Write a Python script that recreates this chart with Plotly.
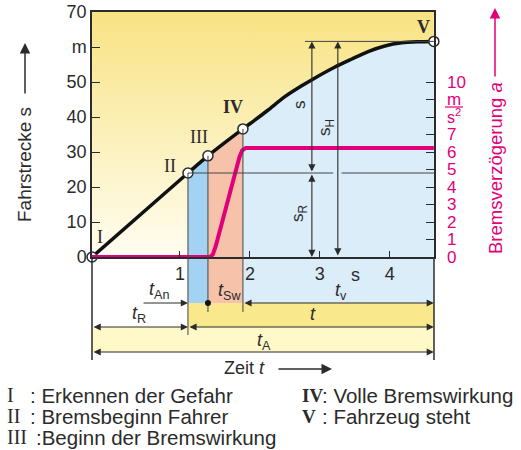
import plotly.graph_objects as go

# ---------------- data ----------------
# characteristic points I..V (time in s, distance in m)
point_names = ["I", "II", "III", "IV", "V"]
t_points = [-0.257, 1.114, 1.40, 1.90, 4.63]
s_points = [0.0, 24.0, 28.9, 36.6, 61.6]

# stopping-distance curve
t_curve = [-0.257, 1.114, 1.40, 1.90, 2.07, 2.26, 2.50, 2.74, 2.90, 3.21, 3.45, 3.69, 3.93, 4.17, 4.40, 4.63]
s_curve = [0.0, 24.0, 28.9, 36.6, 39.1, 42.0, 45.8, 48.9, 50.8, 54.2, 56.5, 58.7, 60.3, 61.2, 61.5, 61.6]

# braking deceleration (right axis, m/s^2)
t_decel = [-0.257, 1.43, 1.47, 1.51, 1.85, 1.89, 1.94, 4.63]
a_decel = [0.0, 0.0, 0.15, 0.6, 5.7, 6.1, 6.23, 6.23]

x_ticks = [1, 2, 3, 4]
y_ticks = [0, 10, 20, 30, 40, 50, 60, 70]
y_ticktext = ["0", "10", "20", "30", "40", "50", "m", "70"]
y2_ticks = list(range(0, 11))
y2_ticktext = ["0", "1", "2", "3", "4", "5", "6", "7", "", "", "10"]

legend_left = [("I", ": Erkennen der Gefahr"), ("II", ": Bremsbeginn Fahrer"), ("III", ":Beginn der Bremswirkung")]
legend_right = [("IV", ": Volle Bremswirkung"), ("V", ": Fahrzeug steht")]

# ---------------- styling ----------------
W, H = 521, 450
L, R, T, B = 92, 87, 12, 193
PW, PH = W - L - R, H - T - B
XR = [-0.258, 4.632]
PINK = "#e2007a"
DARK = "#2b2b2b"
SANS = "Liberation Sans"
SERIF = "Liberation Serif"


def px(xp):
    return (xp - L) / PW


def py(yp):
    return (H - B - yp) / PH


tI, tII, tIII, tIV, tV = t_points
sI, sII, sIII, sIV, sV = s_points

fig = go.Figure()

# yellow background gradient
fig.add_trace(go.Scatter(x=[tI, tV, tV, tI, tI], y=[0, 0, 70, 70, 0], mode="lines",
                         line=dict(width=0), fill="toself",
                         fillgradient=dict(type="vertical",
                                           colorscale=[[0, "#fffdf0"], [1, "#f8e383"]]),
                         hoverinfo="skip"))
# response band (II-III)
fig.add_trace(go.Scatter(x=[tII, tIII], y=[sII, sIII], mode="lines", line=dict(width=0),
                         fill="tozeroy", fillcolor="#a3d2f2", hoverinfo="skip"))
# build-up band (III-IV)
fig.add_trace(go.Scatter(x=[tIII, tIV], y=[sIII, sIV], mode="lines", line=dict(width=0),
                         fill="tozeroy", fillcolor="#f6c3aa", hoverinfo="skip"))
# full braking area (IV-V)
fig.add_trace(go.Scatter(x=t_curve[3:], y=s_curve[3:], mode="lines",
                         line=dict(width=0, shape="spline", smoothing=0.8),
                         fill="tozeroy", fillcolor="#daedf9", hoverinfo="skip"))
# deceleration
fig.add_trace(go.Scatter(x=t_decel, y=a_decel, yaxis="y2", mode="lines",
                         line=dict(color=PINK, width=4),
                         hoverinfo="skip"))
# distance curve
fig.add_trace(go.Scatter(x=t_curve, y=s_curve, mode="lines",
                         line=dict(color="#111111", width=3.5, shape="spline", smoothing=0.8),
                         hoverinfo="skip"))
fig.add_trace(go.Scatter(x=t_points, y=s_points, mode="markers", cliponaxis=False,
                         marker=dict(size=10, color="white", line=dict(color=DARK, width=1.5)),
                         hoverinfo="skip"))

shapes = []
# bands below the axis
for x0, x1, c in [(tII, tIII, "#a3d2f2"), (tIII, tIV, "#f6c3aa"), (tIV, tV, "#daedf9")]:
    shapes.append(dict(type="rect", xref="x", yref="paper", x0=x0, x1=x1, y0=py(303), y1=0,
                       fillcolor=c, line=dict(width=0), layer="below"))
shapes.append(dict(type="rect", xref="x", yref="paper", x0=tII, x1=tV, y0=py(327), y1=py(303),
                   fillcolor="#fae88c", line=dict(width=0), layer="below"))
shapes.append(dict(type="rect", xref="x", yref="paper", x0=tI, x1=tV, y0=py(352), y1=py(327),
                   fillcolor="#fff8c8", line=dict(width=0), layer="below"))
thin = dict(color="#444444", width=1)
# border extensions
shapes.append(dict(type="line", xref="paper", yref="paper", x0=0, x1=0, y0=py(360), y1=0, line=dict(color=DARK, width=1.5)))
shapes.append(dict(type="line", xref="paper", yref="paper", x0=1, x1=1, y0=py(360), y1=0, line=dict(color=DARK, width=1.5)))
# band edges
for tt, ss, bottom in [(tII, sII, 335), (tIII, sIII, 312), (tIV, sIV, 312)]:
    shapes.append(dict(type="line", xref="x", yref="y", x0=tt, x1=tt, y0=0, y1=ss, line=thin))
    shapes.append(dict(type="line", xref="x", yref="paper", x0=tt, x1=tt, y0=py(bottom), y1=0, line=thin))
# extension lines for distances
shapes.append(dict(type="line", xref="x", yref="y", x0=tII, x1=3.19, y0=sII, y1=sII, line=thin))
shapes.append(dict(type="line", xref="x", yref="y", x0=3.31, x1=tV, y0=sII, y1=sII, line=thin))
shapes.append(dict(type="line", xref="x", yref="y", x0=2.786, x1=tV, y0=sV, y1=sV, line=thin))
# t_Sw dot
shapes.append(dict(type="circle", xref="x", yref="paper", xsizemode="pixel", ysizemode="pixel",
                   xanchor=tIII, yanchor=py(303), x0=-3, x1=3, y0=-3, y1=3,
                   fillcolor="#111111", line=dict(width=0)))
# fraction bar of the unit m/s^2 on the right axis
shapes.append(dict(type="line", xref="paper", yref="paper", x0=px(445), x1=px(463),
                   y0=py(107), y1=py(107), line=dict(color=PINK, width=1.2)))

ann = []


def arrow(x, y, ax, ay, both=True, xref="x", yref="y", col=DARK):
    d = dict(x=x, y=y, ax=ax, ay=ay, xref=xref, yref=yref, axref=xref,
             ayref=yref if yref != "paper" else "pixel",
             showarrow=True, arrowhead=2, arrowsize=1.3, arrowwidth=1.1, arrowcolor=col,
             startarrowhead=2, startarrowsize=1.3, standoff=0, startstandoff=0,
             arrowside="end+start" if both else "end", text="")
    if yref == "paper":
        d["ay"] = 0
    return d


# vertical dimension arrows
ann.append(arrow(2.886, sV, 2.886, sII))
ann.append(arrow(2.886, 0, 2.886, sII))
ann.append(arrow(3.257, sV, 3.257, 0))
# horizontal time arrows below axis
ann.append(arrow(tII, py(303), 0.457, py(303), both=False, yref="paper"))
ann.append(arrow(tV, py(303), tIV, py(303), yref="paper"))
ann.append(arrow(tII, py(327), tI, py(327), yref="paper"))
ann.append(arrow(tV, py(327), tII, py(327), yref="paper"))
ann.append(arrow(tV, py(352), tI, py(352), yref="paper"))


def txt(x, y, s, size=18, color=DARK, family=SANS, angle=0, xanchor="center"):
    ann.append(dict(x=px(x), y=py(y), xref="paper", yref="paper", text=s, showarrow=False,
                    font=dict(size=size, color=color, family=family), textangle=angle,
                    xanchor=xanchor, yanchor="middle"))


# point labels
txt(100, 237, "I", family=SERIF)
txt(170, 166, "II", family=SERIF)
txt(199, 137, "III", family=SERIF)
txt(233, 107, "<b>IV</b>", family=SERIF)
txt(423, 27, "<b>V</b>", family=SERIF)
# distance labels
txt(299, 105, "s", size=17, angle=-90)
txt(326, 128, "s<sub>H</sub>", size=17, angle=-90)
txt(299, 213, "s<sub>R</sub>", size=17, angle=-90)
# unit of the right axis
txt(454, 99, "m", size=17, color=PINK)
txt(454, 116, "s<sup>2</sup>", size=16, color=PINK)
# time labels
txt(355, 275, "s")
txt(159, 290, "<i>t</i><sub>An</sub>")
txt(229, 291, "<i>t</i><sub>Sw</sub>")
txt(341, 291, "<i>t</i><sub>v</sub>")
txt(139, 314, "<i>t</i><sub>R</sub>")
txt(313, 314, "<i>t</i>")
txt(264, 341, "<i>t</i><sub>A</sub>")
txt(244, 368, "Zeit <i>t</i>")
# axis titles
txt(25, 165, "Fahrstrecke s", size=19, angle=-90)
txt(495, 168, "Bremsverzögerung <i>a</i>", size=18.5, color=PINK, angle=-90)

# legend rows
rows = [395, 416, 437]
for (num, lab), yy in zip(legend_left, rows):
    txt(5, yy, num, size=20, family=SERIF, xanchor="left")
    txt(28 if len(num) < 3 else 34, yy, lab, size=20.5, xanchor="left")
for (num, lab), yy in zip(legend_right, rows):
    txt(300, yy, "<b>" + num + "</b>", size=19, family=SERIF, xanchor="left")
    txt(320, yy, lab, size=20.5, xanchor="left")

# arrows of titles
fig.add_annotation(x=px(25), y=py(43), ax=0, ay=52, xref="paper", yref="paper", showarrow=True,
                   arrowhead=2, arrowsize=1.4, arrowwidth=1.5, arrowcolor=DARK, text="")
fig.add_annotation(x=px(495), y=py(8), ax=0, ay=70, xref="paper", yref="paper", showarrow=True,
                   arrowhead=2, arrowsize=1.4, arrowwidth=1.5, arrowcolor=PINK, text="")
fig.add_annotation(x=px(332), y=py(369), ax=-55, ay=0, xref="paper", yref="paper", showarrow=True,
                   arrowhead=2, arrowsize=1.4, arrowwidth=1.5, arrowcolor=DARK, text="")

for a in ann:
    fig.add_annotation(**a)

fig.update_layout(
    width=W, height=H, margin=dict(l=L, r=R, t=T, b=B, pad=0, autoexpand=False),
    paper_bgcolor="white", plot_bgcolor="white", showlegend=False,
    font=dict(family=SANS, size=18, color=DARK),
    shapes=shapes,
    xaxis=dict(range=XR, showgrid=False, zeroline=False, showline=True, mirror=True,
               linecolor=DARK, linewidth=1.5, ticks="inside", ticklen=6, tickcolor=DARK,
               tickvals=x_ticks, tickfont=dict(size=18, color=DARK), automargin=False),
    yaxis=dict(range=[0, 70], showgrid=False, zeroline=False, showline=True, mirror=True,
               linecolor=DARK, linewidth=1.5, ticks="inside", ticklen=8, tickcolor=DARK,
               tickvals=y_ticks, ticktext=y_ticktext, tickfont=dict(size=18, color=DARK),
               automargin=False),
    yaxis2=dict(range=[0, 14], overlaying="y", side="right", showgrid=False, zeroline=False,
                showline=False, ticks="inside", ticklen=8, tickcolor=DARK,
                tickvals=y2_ticks, ticktext=y2_ticktext, tickfont=dict(size=17, color=PINK),
                ticklabelstandoff=12, automargin=False),
)

fig.write_html("out.html", config={"displayModeBar": False},
               post_script="document.body.style.margin='0';")
